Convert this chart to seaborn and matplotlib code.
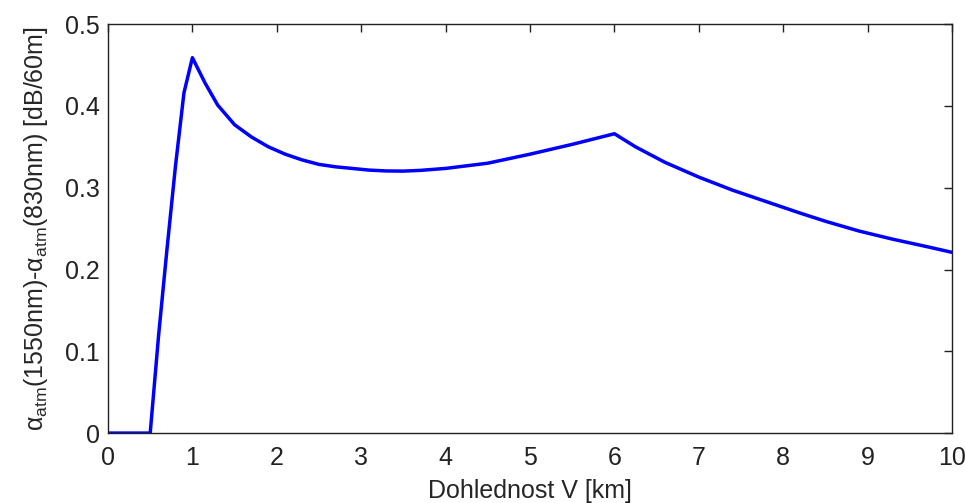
import matplotlib
matplotlib.use("Agg")
import matplotlib.pyplot as plt
import matplotlib.ticker as mticker
import seaborn as sns
import pandas as pd

# Data
visibility_km = [0, 0.5, 0.6, 0.7, 0.8, 0.9, 1.0, 1.15, 1.3, 1.5, 1.7, 1.9, 2.1, 2.3,
                 2.5, 2.7, 2.9, 3.1, 3.3, 3.5, 3.7, 4.0, 4.5, 5.0, 5.5, 6.0, 6.25, 6.6,
                 7.0, 7.4, 7.8, 8.2, 8.5, 8.9, 9.3, 9.7, 10.0]
atten_diff = [0, 0, 0.120, 0.226, 0.327, 0.416, 0.459, 0.428, 0.401, 0.377, 0.362,
              0.350, 0.341, 0.334, 0.3285, 0.3255, 0.3235, 0.3215, 0.3205, 0.3203,
              0.3212, 0.3236, 0.330, 0.341, 0.353, 0.366, 0.350, 0.331, 0.313, 0.297,
              0.283, 0.269, 0.259, 0.247, 0.237, 0.228, 0.221]
x_ticks = [0, 1, 2, 3, 4, 5, 6, 7, 8, 9, 10]
y_ticks = [0, 0.1, 0.2, 0.3, 0.4, 0.5]
x_label = "Dohlednost V [km]"
y_label = r"$\alpha_{\rm atm}$(1550nm)-$\alpha_{\rm atm}$(830nm) [dB/60m]"

sns.set_style("white")
plt.rcParams['font.family'] = ['Liberation Sans', 'DejaVu Sans']
plt.rcParams['mathtext.fontset'] = 'custom'
plt.rcParams['mathtext.rm'] = 'Liberation Sans'
plt.rcParams['mathtext.it'] = 'Liberation Sans'
plt.rcParams['mathtext.default'] = 'regular'

df = pd.DataFrame({"V": visibility_km, "a": atten_diff})

fig = plt.figure(figsize=(9.66, 5.03), dpi=100)
ax = fig.add_axes([0.1118, 0.139, 0.8737, 0.813])
sns.lineplot(data=df, x="V", y="a", color=(0, 0, 1), linewidth=2.5, ax=ax)

ax.set_xlim(0, 10)
ax.set_ylim(0, 0.5)
ax.set_xticks(x_ticks)
ax.set_yticks(y_ticks)
ax.yaxis.set_major_formatter(mticker.FormatStrFormatter('%g'))
ax.tick_params(direction='in', length=6, width=1, top=True, right=True,
               labelsize=18, colors='#222222', pad=6)
ax.tick_params(axis='x', pad=9)
for s in ax.spines.values():
    s.set_color('#222222')
    s.set_linewidth(1)
ax.set_xlabel(x_label, fontsize=18, labelpad=7)
ax.set_ylabel(y_label, fontsize=18, labelpad=11)

fig.savefig("out.png", dpi=100, facecolor='white')
